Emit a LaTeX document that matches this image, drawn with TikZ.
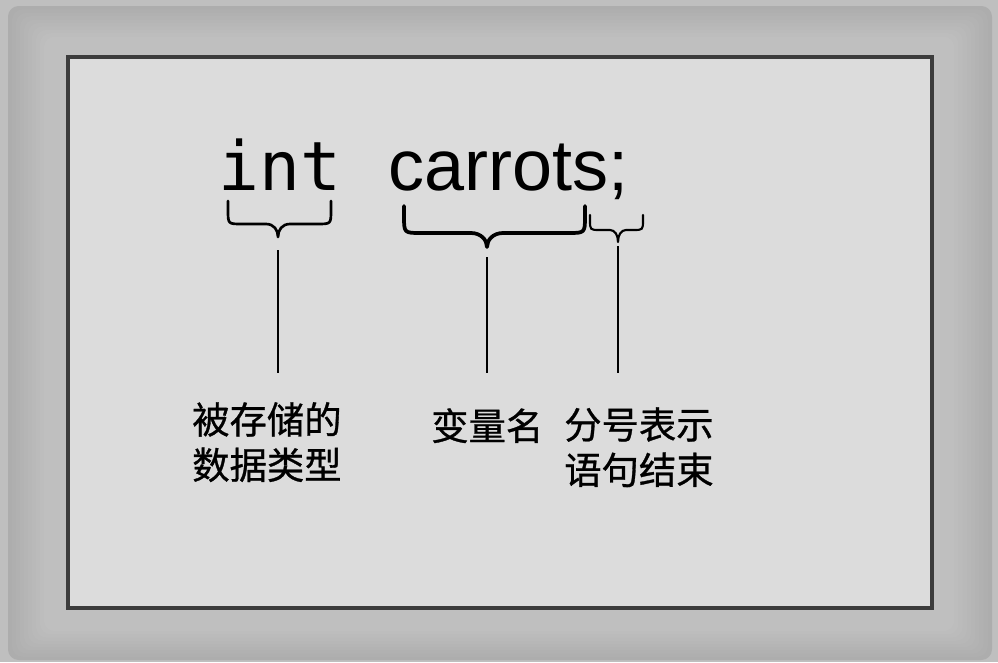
\documentclass[tikz,border=0pt]{standalone}
\usepackage{fontspec}
\setmainfont{Liberation Sans}
\setmonofont{DejaVu Sans Mono}
\newfontfamily\cjk[FakeBold=0.8]{Noto Sans CJK SC}
\definecolor{bgouter}{HTML}{BFBFBF}
\definecolor{shadC}{HTML}{ABABAB}
\definecolor{boxfill}{HTML}{DCDCDC}
\definecolor{boxline}{HTML}{3C3C3C}
\tikzset{
  codetext/.style={inner sep=0pt, anchor=base west, text=black},
  labeltext/.style={inner sep=0pt, anchor=base west, align=left, text=black,
    font=\cjk\fontsize{28pt}{34pt}\selectfont},
  bracestyle/.style={draw=black, line join=round, line cap=round},
  stem/.style={draw=black, line width=2.2pt}
}
\begin{document}
\begin{tikzpicture}[x=0.75pt, y=-0.75pt]
\useasboundingbox (0,0) rectangle (998,662);
% background and soft shadow
\fill[bgouter] (0,0) rectangle (998,662);
\foreach \k in {0,...,9} {
  \pgfmathsetmacro{\pct}{100-10*(\k+1)}
  \fill[shadC!\pct!bgouter, rounded corners=8]
    (8+4*\k,6+3.4*\k) rectangle (992-4.2*\k,660-3.2*\k);
}
% main panel
\draw[fill=boxfill, draw=boxline, line width=2.4pt] (68,57) rectangle (932,608);
% code text
\node[codetext, font=\ttfamily\fontsize{51pt}{51pt}\selectfont] (int) at (218,190) {int};
\node[codetext, font=\fontsize{54pt}{54pt}\selectfont] (carrots) at (388,190) {carrots;};
% braces
\draw[bracestyle, line width=2pt]
  (228,201) -- (228,210) .. controls (228,224) .. (242,224) -- (266,224)
  .. controls (274,224) and (278,230) .. (278,237)
  .. controls (278,230) and (282,224) .. (290,224) -- (317,224)
  .. controls (331,224) .. (331,210) -- (331,201);
\draw[bracestyle, line width=2.8pt]
  (404,206) -- (404,216) .. controls (404,233) .. (421,233) -- (471,233)
  .. controls (481,233) and (487,240) .. (487,247)
  .. controls (487,240) and (493,233) .. (503,233) -- (568,233)
  .. controls (585,233) .. (585,216) -- (585,206);
\draw[bracestyle, line width=1.6pt]
  (590,215) -- (590,220) .. controls (590,230) .. (600,230) -- (610,230)
  .. controls (615,230) and (618,235) .. (618,242)
  .. controls (618,235) and (621,230) .. (626,230) -- (633,230)
  .. controls (643,230) .. (643,220) -- (643,215);
% stems
\coordinate (s1t) at (278,250); \coordinate (s1b) at (278,373);
\coordinate (s2t) at (487,257); \coordinate (s2b) at (487,373);
\coordinate (s3t) at (618,246); \coordinate (s3b) at (618,373);
\draw[stem] (s1t) -- (s1b);
\draw[stem] (s2t) -- (s2b);
\draw[stem] (s3t) -- (s3b);
% labels (base = last line's baseline)
\node[labeltext] (lab1) at (192,479) {被存储的\\数据类型};
\node[labeltext] (lab2) at (431,440) {变量名};
\node[labeltext] (lab3) at (564,484) {分号表示\\语句结束};
\end{tikzpicture}
\end{document}
